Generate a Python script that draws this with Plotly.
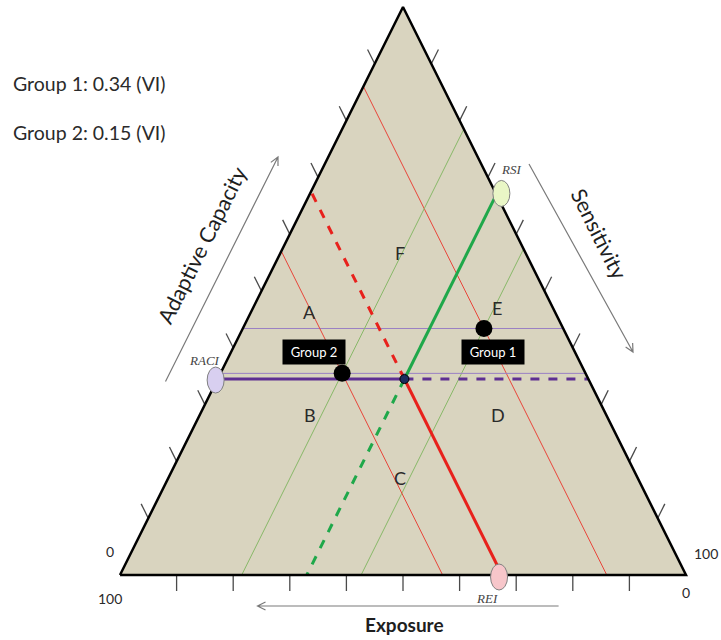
import plotly.graph_objects as go
import numpy as np

# ---------------- data (ternary fractions) ----------------
# index values: Relative Exposure / Sensitivity / Adaptive Capacity Index
index_names = ["REI", "RSI", "RACI"]
rei, rsi, raci = 0.325, 0.33, 0.345

group_names = ["Group 1", "Group 2"]
group_exposure = [0.14, 0.43]
group_sensitivity = [0.426, 0.215]
group_adaptive = [0.434, 0.355]
group_vi = [0.34, 0.15]

region_labels = ["A", "B", "C", "D", "E", "F"]
region_exposure = [0.433, 0.523, 0.420, 0.191, 0.099, 0.222]
region_sensitivity = [0.104, 0.195, 0.409, 0.527, 0.431, 0.211]
region_adaptive = [0.463, 0.282, 0.171, 0.282, 0.470, 0.567]

tick_fracs = [0.1, 0.2, 0.3, 0.4, 0.5, 0.6, 0.7, 0.8, 0.9]
axis_titles = ["Exposure", "Sensitivity", "Adaptive Capacity"]

# ---------------- geometry (pixel frame) ----------------
VT = np.array([403.0, 7.0])     # adaptive capacity = 100
VL = np.array([120.0, 575.0])   # exposure = 100
VR = np.array([686.0, 575.0])   # sensitivity = 100


def tern(e, s, a):
    p = e * VL + s * VR + a * VT
    return float(p[0]), float(p[1])


def seg(p, q):
    return [p[0], q[0]], [p[1], q[1]]


FILL = "#d9d4bf"
RED_T, GREEN_T, PURPLE_T = "#e8453a", "#88b868", "#9a80c4"
RED, GREEN, PURPLE = "#e8211c", "#1fa84a", "#5e2f92"
TXT = "#2a2a2a"

fig = go.Figure()

# triangle fill
tri = [tern(1, 0, 0), tern(0, 1, 0), tern(0, 0, 1), tern(1, 0, 0)]
fig.add_trace(go.Scatter(x=[p[0] for p in tri], y=[p[1] for p in tri], mode="lines",
                         fill="toself", fillcolor=FILL, line=dict(width=0),
                         hoverinfo="skip", showlegend=False))

# thin group lines
for e, s, a in zip(group_exposure, group_sensitivity, group_adaptive):
    x, y = seg(tern(e, 0, 1 - e), tern(e, 1 - e, 0))
    fig.add_trace(go.Scatter(x=x, y=y, mode="lines", line=dict(color=RED_T, width=1),
                             hoverinfo="skip", showlegend=False))
    x, y = seg(tern(1 - s, s, 0), tern(0, s, 1 - s))
    fig.add_trace(go.Scatter(x=x, y=y, mode="lines", line=dict(color=GREEN_T, width=1),
                             hoverinfo="skip", showlegend=False))
    x, y = seg(tern(1 - a, 0, a), tern(0, 1 - a, a))
    fig.add_trace(go.Scatter(x=x, y=y, mode="lines", line=dict(color=PURPLE_T, width=1),
                             hoverinfo="skip", showlegend=False))

# index lines
P = tern(rei, rsi, raci)
lines = [
    (tern(1 - raci, 0, raci), P, PURPLE, "solid"),
    (P, tern(0, 1 - raci, raci), PURPLE, "dash"),
    (tern(0, rsi, 1 - rsi), P, GREEN, "solid"),
    (P, tern(1 - rsi, rsi, 0), GREEN, "dash"),
    (tern(rei, 1 - rei, 0), P, RED, "solid"),
    (P, tern(rei, 0, 1 - rei), RED, "dash"),
]
for p, q, c, d in lines:
    x, y = seg(p, q)
    fig.add_trace(go.Scatter(x=x, y=y, mode="lines", line=dict(color=c, width=3, dash=d),
                             hoverinfo="skip", showlegend=False))

# triangle edges
fig.add_trace(go.Scatter(x=[p[0] for p in tri], y=[p[1] for p in tri], mode="lines",
                         line=dict(color="black", width=2.5), hoverinfo="skip", showlegend=False))

# ticks
def unit(v):
    v = np.array(v, dtype=float)
    return v / np.linalg.norm(v)

TL = 16
dir_left = unit(VT - VR)
dir_right = unit(VT - VL)
for f in tick_fracs:
    for base, d in [(tern(1 - f, 0, f), dir_left), (tern(0, f, 1 - f), dir_right),
                    (tern(f, 1 - f, 0), np.array([0.0, 1.0]))]:
        b = np.array(base)
        e = b + d * TL
        fig.add_shape(type="line", x0=b[0], y0=b[1], x1=e[0], y1=e[1],
                      line=dict(color="#4a4a4a", width=1.3), layer="below")

# group dots and intersection point
gx, gy = zip(*[tern(e, s, a) for e, s, a in zip(group_exposure, group_sensitivity, group_adaptive)])
fig.add_trace(go.Scatter(x=list(gx), y=list(gy), mode="markers",
                         marker=dict(size=17, color="black"), hoverinfo="skip", showlegend=False))
fig.add_trace(go.Scatter(x=[P[0]], y=[P[1]], mode="markers",
                         marker=dict(size=9, color="#1c2d5e", line=dict(color="black", width=1)),
                         hoverinfo="skip", showlegend=False))

# index ellipses
idx_pos = [tern(rei, 1 - rei, 0), tern(0, rsi, 1 - rsi), tern(1 - raci, 0, raci)]
idx_fill = ["#f7c6ca", "#e9f6c6", "#d8cff0"]
idx_shift = [(-3, 2), (5, -1), (-2, 1)]
idx_label_off = [(-12, 21), (10, -24), (-11, -20)]
for name, (cx, cy), fc, (dx, dy), (lx, ly) in zip(index_names, idx_pos, idx_fill, idx_shift, idx_label_off):
    cx += dx
    cy += dy
    fig.add_shape(type="circle", x0=cx - 8.5, x1=cx + 8.5, y0=cy - 13, y1=cy + 13,
                  fillcolor=fc, line=dict(color="#808080", width=1), layer="above")
    fig.add_annotation(x=cx + lx, y=cy + ly, text="<i>" + name + "</i>", showarrow=False,
                       font=dict(family="Liberation Serif", size=13, color="#444444"))

# group boxes
box_shift = [(9, -24), (-28, 21)]
for name, x, y, (dx, dy) in zip(group_names, gx, gy, box_shift):
    fig.add_annotation(x=x, y=y, xshift=dx, yshift=dy, text=name, showarrow=False,
                       bgcolor="black", width=60, height=22,
                       font=dict(family="Lato", size=13, color="white"))

# region letters
for lab, e, s, a in zip(region_labels, region_exposure, region_sensitivity, region_adaptive):
    x, y = tern(e, s, a)
    fig.add_annotation(x=x, y=y, text=lab, showarrow=False,
                       font=dict(family="Lato", size=18, color=TXT))

# corner labels
corner = [
    (VT, -30, -11, "100"), (VT, 22, -11, "0"),
    (VL, -10, -24, "0"), (VL, -10, 23, "100"),
    (VR, 20, -22, "100"), (VR, 0, 17, "0"),
]
for v, dx, dy, t in corner:
    fig.add_annotation(x=v[0] + dx, y=v[1] + dy, text=t, showarrow=False,
                       font=dict(family="Lato", size=14, color=TXT))

# left text
for i, (name, vi) in enumerate(zip(group_names, group_vi)):
    fig.add_annotation(x=11, y=83 + 49 * i, text=f"{name}: {vi:.2f} (VI)", showarrow=False,
                       xanchor="left", font=dict(family="Lato", size=19.5, color=TXT))

# axis titles
fig.add_annotation(x=202, y=245, text=axis_titles[2], textangle=-63.5, showarrow=False,
                   font=dict(family="Lato", size=21.5, color="#1e1e1e"))
fig.add_annotation(x=599, y=234, text=axis_titles[1], textangle=63.5, showarrow=False,
                   font=dict(family="Lato", size=21.5, color="#1e1e1e"))
fig.add_annotation(x=404, y=624, text="<b>" + axis_titles[0] + "</b>", showarrow=False,
                   font=dict(family="Lato", size=19, color="#1e1e1e"))

# direction arrows (open chevron heads)
def arrow(x0, y0, x1, y1, color="#7a7a7a"):
    d = unit([x1 - x0, y1 - y0])
    n = np.array([-d[1], d[0]])
    h = 8
    a1 = np.array([x1, y1]) - d * h + n * 4
    a2 = np.array([x1, y1]) - d * h - n * 4
    path = (f"M{x0},{y0} L{x1},{y1} M{a1[0]},{a1[1]} L{x1},{y1} L{a2[0]},{a2[1]}")
    fig.add_shape(type="path", path=path, line=dict(color=color, width=1.2), layer="below")

arrow(165.5, 381.5, 278, 157)
arrow(529, 164, 633, 352)
arrow(558.6, 606, 257.5, 606)

fig.update_layout(
    width=721, height=640,
    margin=dict(l=0, r=0, t=0, b=0),
    paper_bgcolor="white", plot_bgcolor="white",
    xaxis=dict(range=[0, 721], visible=False, fixedrange=True),
    yaxis=dict(range=[640, 0], visible=False, fixedrange=True),
    showlegend=False,
)
fig.write_html("out.html", config={"displayModeBar": False},
               post_script="document.body.style.margin='0';document.body.style.overflow='hidden';")
